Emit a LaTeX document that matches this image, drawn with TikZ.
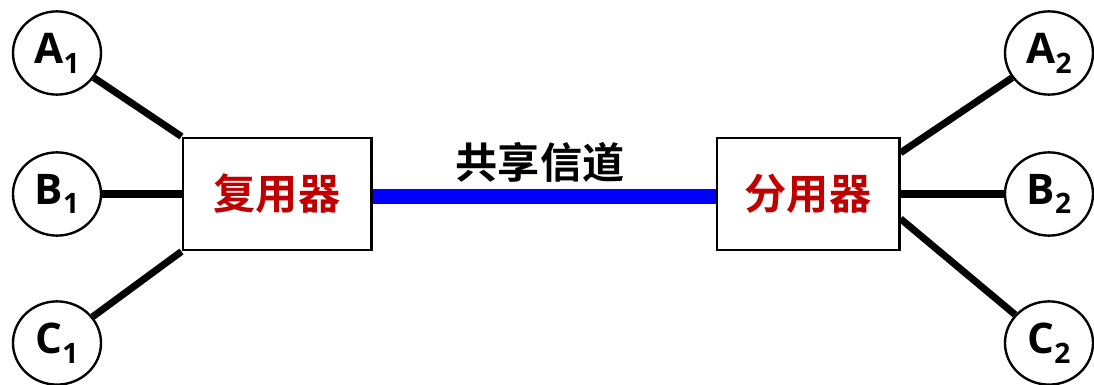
\documentclass[tikz,border=0pt]{standalone}
\usepackage{fontspec}
\setmainfont{Open Sans}
\newfontfamily\cjk{Noto Sans CJK SC}[BoldFont={Noto Sans CJK SC Bold}]
\usepackage{tikz}
\usetikzlibrary{shapes.geometric, backgrounds}
\definecolor{muxred}{HTML}{C00000}
\definecolor{chanblue}{HTML}{0000FF}
\newcommand{\stn}[2]{#1\raisebox{-7pt}{\fontsize{20}{20}\selectfont #2}}

\begin{document}
\begin{tikzpicture}[x=0.025cm, y=-0.025cm,
  station/.style={ellipse, draw, line width=1.7pt, fill=white, inner sep=0pt,
    minimum width=2.2cm, minimum height=2.08cm,
    font=\fontsize{30}{30}\selectfont\bfseries},
  muxbox/.style={rectangle, draw, line width=2.1pt, fill=white,
    minimum height=2.8cm, font=\fontsize{30}{30}\selectfont\cjk\bfseries, text=muxred},
  link/.style={line width=5pt}]
\useasboundingbox (0,0) rectangle (1094,385);
% stations
\node[station] (a1) at (57,53) {\stn{A}{1}};
\node[station] (b1) at (57,194) {\stn{B}{1}};
\node[station] (c1) at (57,343) {\stn{C}{1}};
\node[station] (a2) at (1049,53) {\stn{A}{2}};
\node[station] (b2) at (1049,194) {\stn{B}{2}};
\node[station] (c2) at (1049,343) {\stn{C}{2}};
% multiplexer / demultiplexer
\node[muxbox, minimum width=4.7cm] (mux) at (277,194) {复用器};
\node[muxbox, minimum width=4.55cm] (demux) at (808,194) {分用器};
\node[font=\fontsize{30}{30}\selectfont\cjk\bfseries] (chan) at (540,162) {共享信道};
\begin{scope}[on background layer]
\draw[link] (a1) -- (mux.north west);
\draw[link] (b1) -- (mux.west);
\draw[link] (c1) -- (mux.south west);
\draw[link] (demux.24) -- (a2);
\draw[link] (demux.east) -- (b2);
\draw[link] (demux.-15) -- (c2);
\draw[chanblue, line width=10.5pt] ([yshift=-2pt]mux.east) -- ([yshift=-2pt]demux.west);
\end{scope}
\end{tikzpicture}
\end{document}
